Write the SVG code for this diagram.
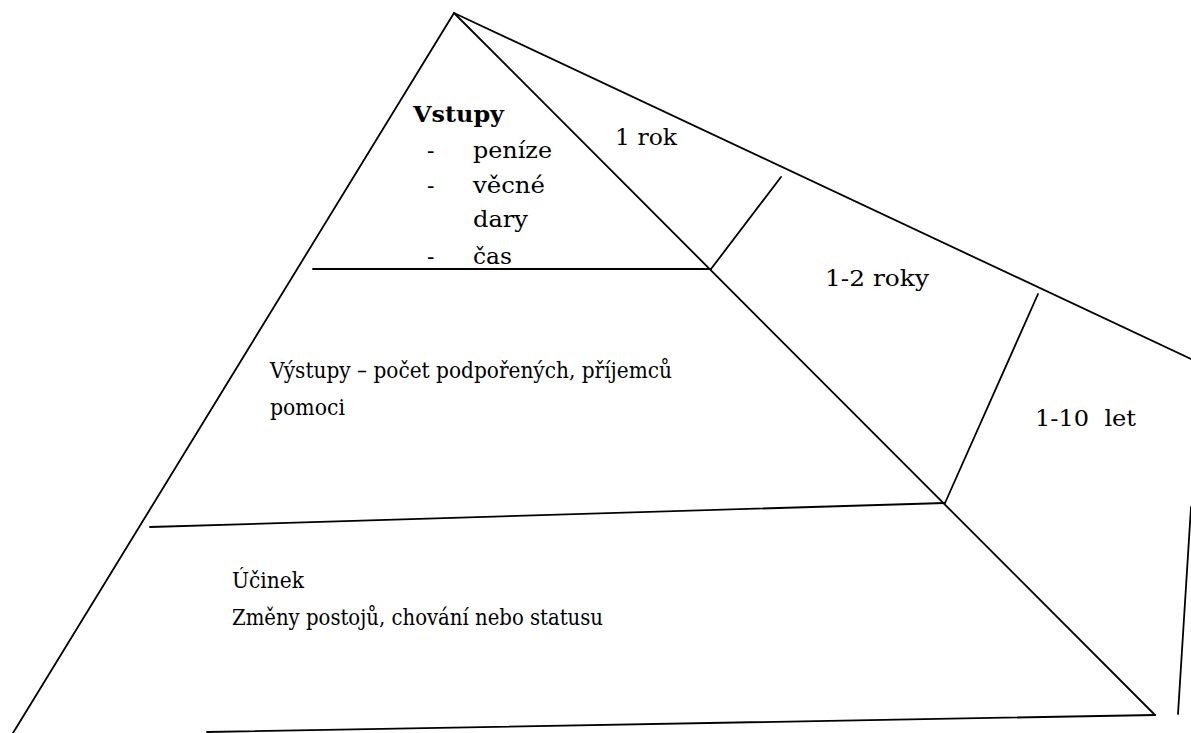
<svg xmlns="http://www.w3.org/2000/svg" width="1191" height="733" viewBox="0 0 1191 733">
<style>
.ln{stroke:#000;stroke-width:1.8;fill:none;stroke-linecap:round}
.t{font-family:'DejaVu Serif',serif;font-size:22px;fill:#000}
.b{font-weight:bold}
</style>
<rect width="1191" height="733" fill="#fff"/>
<g id="lines">
<line class="ln" x1="454" y1="13" x2="13" y2="733"/>
<line class="ln" x1="454" y1="13" x2="1155" y2="715"/>
<line class="ln" x1="454" y1="13" x2="1191" y2="359"/>
<line class="ln" x1="313" y1="269" x2="711" y2="269"/>
<line class="ln" x1="711" y1="269" x2="781" y2="177"/>
<line class="ln" x1="945" y1="503" x2="1038" y2="294"/>
<line class="ln" x1="150" y1="527" x2="945" y2="503"/>
<line class="ln" x1="207" y1="732" x2="1155" y2="715"/>
<line class="ln" x1="1191" y1="507" x2="1178" y2="714"/>
</g>
<g id="vstupy">
<text class="t b" x="413" y="122" textLength="91" lengthAdjust="spacingAndGlyphs">Vstupy</text>
<text class="t" x="427" y="158">-</text>
<text class="t" x="473" y="158" textLength="79" lengthAdjust="spacingAndGlyphs">peníze</text>
<text class="t" x="427" y="193">-</text>
<text class="t" x="473" y="193" textLength="72" lengthAdjust="spacingAndGlyphs">věcné</text>
<text class="t" x="473" y="227" textLength="55" lengthAdjust="spacingAndGlyphs">dary</text>
<text class="t" x="427" y="264">-</text>
<text class="t" x="473" y="264" textLength="39" lengthAdjust="spacingAndGlyphs">čas</text>
</g>
<g id="vystupy">
<text class="t" x="270" y="378" textLength="402" lengthAdjust="spacingAndGlyphs">Výstupy – počet podpořených, příjemců</text>
<text class="t" x="270" y="415" textLength="75" lengthAdjust="spacingAndGlyphs">pomoci</text>
</g>
<g id="ucinek">
<text class="t" x="232" y="588" textLength="72" lengthAdjust="spacingAndGlyphs">Účinek</text>
<text class="t" x="232" y="625" textLength="371" lengthAdjust="spacingAndGlyphs">Změny postojů, chování nebo statusu</text>
</g>
<g id="t1"><text class="t" x="615" y="145" textLength="62" lengthAdjust="spacingAndGlyphs">1 rok</text></g>
<g id="t2"><text class="t" x="825" y="286" textLength="104" lengthAdjust="spacingAndGlyphs">1-2 roky</text></g>
<g id="t3"><text class="t" x="1035" y="426" textLength="101" lengthAdjust="spacingAndGlyphs" xml:space="preserve">1-10  let</text></g>
</svg>
